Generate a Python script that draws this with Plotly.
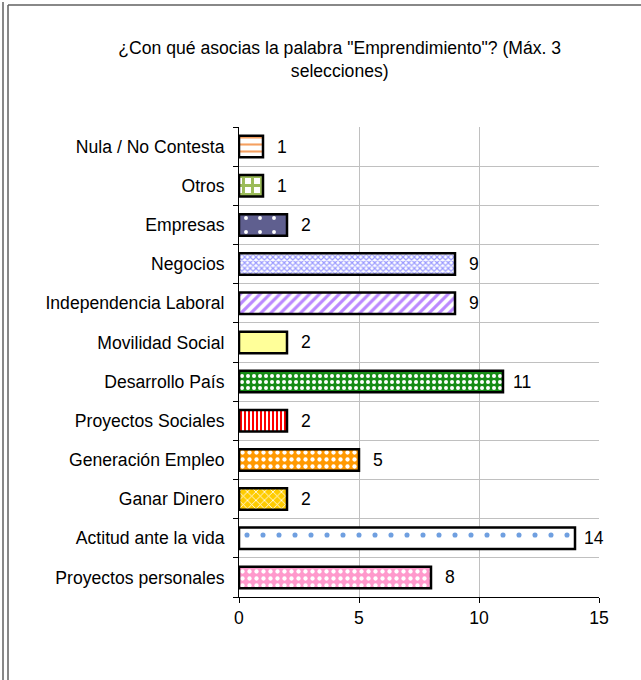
import plotly.graph_objects as go

# ---------------- Data (bottom to top, as plotted) ----------------
categories = [
    "Proyectos personales",
    "Actitud ante la vida",
    "Ganar Dinero",
    "Generación Empleo",
    "Proyectos Sociales",
    "Desarrollo País",
    "Movilidad Social",
    "Independencia Laboral",
    "Negocios",
    "Empresas",
    "Otros",
    "Nula / No Contesta",
]
counts = [8, 14, 2, 5, 2, 11, 2, 9, 9, 2, 1, 1]
x_ticks = [0, 5, 10, 15]

title_text = '¿Con qué asocias la palabra "Emprendimiento"? (Máx. 3<br>selecciones)'

# ---------------- Fill styles per bar (same order) ----------------
pat_shape = [".", ".", "x", ".", "|", ".", "", "/", "x", ".", "+", "-"]
pat_fg = ["#ffffff", "#6f9fe0", "#ffffff", "#ffffff", "#ff0000", "#ffffff",
          "#ffff99", "#bb88ff", "#9999ff", "#ffffff", "#9bbb59", "#f5a060"]
pat_bg = ["#ff99cc", "#ffffff", "#ffcc00", "#ff9900", "#ffffff", "#168c16",
          "#ffff99", "#ffffff", "#ffffff", "#5f5f8f", "#ffffff", "#ffffff"]
pat_size = [7, 16, 6, 7, 4, 6, 8, 7, 4, 14, 9, 7]
pat_solid = [0.3, 0.08, 0.25, 0.3, 0.5, 0.35, 0.3, 0.45, 0.5, 0.06, 0.55, 0.3]

FONT = "Liberation Sans, Arial, sans-serif"
FS = 17.6

# plot area in pixels (page is 641 x 680)
W, H = 641, 680
L, R, T, B = 239, 42, 127, 83


def px_x(px):
    return (px - L) / (W - L - R)


def px_y(py):
    return (H - B - py) / (H - T - B)


fig = go.Figure()

# one trace per bar so each keeps its own fill pattern
for i, (cat, val) in enumerate(zip(categories, counts)):
    fig.add_trace(go.Bar(
        x=[val],
        y=[cat],
        orientation="h",
        width=0.55,
        marker=dict(
            color=pat_bg[i],
            line=dict(color="black", width=2.5),
            pattern=dict(
                shape=pat_shape[i],
                fgcolor=pat_fg[i],
                bgcolor=pat_bg[i],
                fgopacity=1,
                size=pat_size[i],
                solidity=pat_solid[i],
                fillmode="overlay",
            ),
        ),
        name=cat,
    ))
    # value label to the right of the bar
    fig.add_annotation(
        x=val, y=cat, text=str(val), showarrow=False,
        xanchor="center", xshift=19,
        font=dict(family=FONT, size=FS, color="black"),
    )

# outer frame (double line on the left, line across the top)
frame = dict(type="line", xref="paper", yref="paper",
             line=dict(color="#606060", width=1.5))
fig.add_shape(x0=px_x(3), x1=px_x(3), y0=px_y(H), y1=px_y(2), **frame)
fig.add_shape(x0=px_x(8), x1=px_x(8), y0=px_y(H), y1=px_y(5), **frame)
fig.add_shape(x0=px_x(8), x1=px_x(W), y0=px_y(5), y1=px_y(5), **frame)

fig.update_layout(
    width=W,
    height=H,
    margin=dict(l=L, r=R, t=T, b=B),
    paper_bgcolor="white",
    plot_bgcolor="white",
    barmode="overlay",
    showlegend=False,
    font=dict(family=FONT, size=FS, color="black"),
    title=dict(
        text=title_text,
        x=0.53, xanchor="center", xref="container",
        y=1 - 54 / H, yanchor="top",
        font=dict(family=FONT, size=FS, color="black"),
    ),
)
fig.update_xaxes(
    range=[0, 15],
    tickvals=x_ticks,
    showgrid=True,
    gridcolor="#c0c0c0",
    gridwidth=1,
    zeroline=False,
    showline=True,
    linecolor="black",
    linewidth=1,
    ticks="outside",
    ticklen=5,
    tickcolor="black",
    tickfont=dict(family=FONT, size=FS),
)
fig.update_yaxes(
    type="category",
    categoryorder="array",
    categoryarray=categories,
    tickson="boundaries",
    showgrid=True,
    gridcolor="#c0c0c0",
    gridwidth=1,
    showline=True,
    linecolor="black",
    linewidth=1,
    ticks="outside",
    ticklen=5,
    tickcolor="black",
    ticklabelstandoff=10,
    tickfont=dict(family=FONT, size=FS),
)

fig.write_html(
    "out.html",
    config={"displayModeBar": False},
    post_script="document.body.style.margin='0';",
)
